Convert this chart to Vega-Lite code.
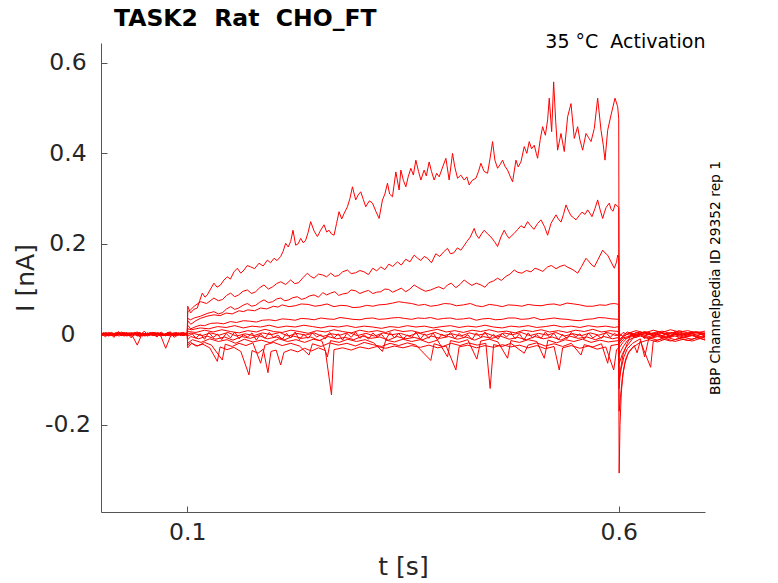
{
"$schema": "https://vega.github.io/schema/vega-lite/v6.json",
"width": 604,
"height": 469,
"autosize": "none",
"padding": {"left": 101, "top": 43, "right": 73, "bottom": 71},
"background": "white",
"config": {"view": {"stroke": null}, "font": "DejaVu Sans"},
"title": {"text": "TASK2\u00a0 Rat\u00a0 CHO_FT", "anchor": "start", "frame": "group", "fontSize": 23.5, "fontWeight": "bold", "color": "#000000", "dx": 13, "offset": -17, "baseline": "alphabetic"},
"data": {"values": [
{"sweep":1,"t":0,"I":0.002},{"sweep":1,"t":0.006,"I":-0.003},{"sweep":1,"t":0.012,"I":0.004},{"sweep":1,"t":0.018,"I":-0.001},{"sweep":1,"t":0.024,"I":0.003},{"sweep":1,"t":0.03,"I":-0.004},{"sweep":1,"t":0.036,"I":0.001},{"sweep":1,"t":0.042,"I":0.005},{"sweep":1,"t":0.048,"I":-0.002},{"sweep":1,"t":0.054,"I":0.003},{"sweep":1,"t":0.06,"I":-0.003},{"sweep":1,"t":0.066,"I":0.002},{"sweep":1,"t":0.072,"I":-0.001},{"sweep":1,"t":0.078,"I":0.004},{"sweep":1,"t":0.084,"I":-0.002},{"sweep":1,"t":0.09,"I":0.001},{"sweep":1,"t":0.096,"I":0.003},{"sweep":1,"t":0.1,"I":0},
{"sweep":1,"t":0.1005,"I":0.062},{"sweep":1,"t":0.1038,"I":0.047},{"sweep":1,"t":0.1075,"I":0.055},{"sweep":1,"t":0.1116,"I":0.058},{"sweep":1,"t":0.1145,"I":0.075},{"sweep":1,"t":0.1174,"I":0.091},{"sweep":1,"t":0.1205,"I":0.082},{"sweep":1,"t":0.1232,"I":0.087},{"sweep":1,"t":0.127,"I":0.1},{"sweep":1,"t":0.1309,"I":0.113},{"sweep":1,"t":0.1345,"I":0.104},{"sweep":1,"t":0.1386,"I":0.109},{"sweep":1,"t":0.1425,"I":0.12},{"sweep":1,"t":0.1464,"I":0.127},{"sweep":1,"t":0.15,"I":0.122},{"sweep":1,"t":0.1541,"I":0.138},{"sweep":1,"t":0.158,"I":0.146},{"sweep":1,"t":0.162,"I":0.135},{"sweep":1,"t":0.1657,"I":0.142},{"sweep":1,"t":0.1695,"I":0.152},{"sweep":1,"t":0.1734,"I":0.149},{"sweep":1,"t":0.178,"I":0.145},{"sweep":1,"t":0.1831,"I":0.157},{"sweep":1,"t":0.188,"I":0.151},{"sweep":1,"t":0.1928,"I":0.164},{"sweep":1,"t":0.1965,"I":0.158},{"sweep":1,"t":0.2005,"I":0.168},{"sweep":1,"t":0.204,"I":0.163},{"sweep":1,"t":0.2082,"I":0.172},{"sweep":1,"t":0.211,"I":0.183},{"sweep":1,"t":0.214,"I":0.201},{"sweep":1,"t":0.217,"I":0.193},{"sweep":1,"t":0.2198,"I":0.205},{"sweep":1,"t":0.2225,"I":0.23},{"sweep":1,"t":0.2256,"I":0.197},{"sweep":1,"t":0.2285,"I":0.2},{"sweep":1,"t":0.2314,"I":0.212},{"sweep":1,"t":0.2345,"I":0.202},{"sweep":1,"t":0.2372,"I":0.208},{"sweep":1,"t":0.24,"I":0.225},{"sweep":1,"t":0.243,"I":0.249},{"sweep":1,"t":0.247,"I":0.228},{"sweep":1,"t":0.2508,"I":0.216},{"sweep":1,"t":0.2545,"I":0.23},{"sweep":1,"t":0.2585,"I":0.242},{"sweep":1,"t":0.2615,"I":0.226},{"sweep":1,"t":0.2643,"I":0.23},{"sweep":1,"t":0.267,"I":0.222},{"sweep":1,"t":0.2701,"I":0.219},{"sweep":1,"t":0.273,"I":0.245},{"sweep":1,"t":0.2759,"I":0.271},{"sweep":1,"t":0.279,"I":0.255},{"sweep":1,"t":0.2817,"I":0.267},{"sweep":1,"t":0.2856,"I":0.282},{"sweep":1,"t":0.2885,"I":0.3},{"sweep":1,"t":0.2914,"I":0.326},{"sweep":1,"t":0.2952,"I":0.297},{"sweep":1,"t":0.298,"I":0.308},{"sweep":1,"t":0.301,"I":0.315},{"sweep":1,"t":0.304,"I":0.298},{"sweep":1,"t":0.3068,"I":0.282},{"sweep":1,"t":0.311,"I":0.295},{"sweep":1,"t":0.3146,"I":0.29},{"sweep":1,"t":0.3185,"I":0.272},{"sweep":1,"t":0.3223,"I":0.256},{"sweep":1,"t":0.3262,"I":0.297},{"sweep":1,"t":0.329,"I":0.31},{"sweep":1,"t":0.332,"I":0.334},{"sweep":1,"t":0.3345,"I":0.31},{"sweep":1,"t":0.3378,"I":0.304},{"sweep":1,"t":0.3417,"I":0.359},{"sweep":1,"t":0.3455,"I":0.319},{"sweep":1,"t":0.3475,"I":0.363},{"sweep":1,"t":0.3505,"I":0.34},{"sweep":1,"t":0.3533,"I":0.326},{"sweep":1,"t":0.356,"I":0.348},{"sweep":1,"t":0.3591,"I":0.367},{"sweep":1,"t":0.362,"I":0.352},{"sweep":1,"t":0.3649,"I":0.385},{"sweep":1,"t":0.368,"I":0.36},{"sweep":1,"t":0.3707,"I":0.341},{"sweep":1,"t":0.3745,"I":0.363},{"sweep":1,"t":0.377,"I":0.35},{"sweep":1,"t":0.3803,"I":0.381},{"sweep":1,"t":0.383,"I":0.36},{"sweep":1,"t":0.3861,"I":0.341},{"sweep":1,"t":0.389,"I":0.356},{"sweep":1,"t":0.3919,"I":0.348},{"sweep":1,"t":0.396,"I":0.37},{"sweep":1,"t":0.3997,"I":0.389},{"sweep":1,"t":0.4035,"I":0.341},{"sweep":1,"t":0.4074,"I":0.4},{"sweep":1,"t":0.41,"I":0.37},{"sweep":1,"t":0.4132,"I":0.345},{"sweep":1,"t":0.417,"I":0.352},{"sweep":1,"t":0.4209,"I":0.341},{"sweep":1,"t":0.424,"I":0.348},{"sweep":1,"t":0.4267,"I":0.33},{"sweep":1,"t":0.43,"I":0.34},{"sweep":1,"t":0.4345,"I":0.345},{"sweep":1,"t":0.4375,"I":0.36},{"sweep":1,"t":0.4403,"I":0.378},{"sweep":1,"t":0.444,"I":0.36},{"sweep":1,"t":0.448,"I":0.356},{"sweep":1,"t":0.451,"I":0.39},{"sweep":1,"t":0.4538,"I":0.426},{"sweep":1,"t":0.4565,"I":0.385},{"sweep":1,"t":0.4596,"I":0.367},{"sweep":1,"t":0.4625,"I":0.375},{"sweep":1,"t":0.4654,"I":0.385},{"sweep":1,"t":0.468,"I":0.372},{"sweep":1,"t":0.4712,"I":0.363},{"sweep":1,"t":0.474,"I":0.35},{"sweep":1,"t":0.477,"I":0.337},{"sweep":1,"t":0.4809,"I":0.385},{"sweep":1,"t":0.4835,"I":0.37},{"sweep":1,"t":0.4867,"I":0.381},{"sweep":1,"t":0.4905,"I":0.415},{"sweep":1,"t":0.4935,"I":0.4},{"sweep":1,"t":0.4963,"I":0.426},{"sweep":1,"t":0.499,"I":0.41},{"sweep":1,"t":0.5021,"I":0.418},{"sweep":1,"t":0.5045,"I":0.4},{"sweep":1,"t":0.506,"I":0.389},{"sweep":1,"t":0.509,"I":0.43},{"sweep":1,"t":0.5118,"I":0.459},{"sweep":1,"t":0.515,"I":0.44},{"sweep":1,"t":0.5176,"I":0.474},{"sweep":1,"t":0.5195,"I":0.522},{"sweep":1,"t":0.5223,"I":0.448},{"sweep":1,"t":0.5246,"I":0.558},{"sweep":1,"t":0.527,"I":0.47},{"sweep":1,"t":0.5292,"I":0.407},{"sweep":1,"t":0.5331,"I":0.444},{"sweep":1,"t":0.5369,"I":0.404},{"sweep":1,"t":0.5408,"I":0.481},{"sweep":1,"t":0.5447,"I":0.51},{"sweep":1,"t":0.5485,"I":0.433},{"sweep":1,"t":0.5524,"I":0.459},{"sweep":1,"t":0.555,"I":0.43},{"sweep":1,"t":0.5582,"I":0.407},{"sweep":1,"t":0.5621,"I":0.444},{"sweep":1,"t":0.565,"I":0.435},{"sweep":1,"t":0.5679,"I":0.426},{"sweep":1,"t":0.5717,"I":0.455},{"sweep":1,"t":0.5756,"I":0.522},{"sweep":1,"t":0.5795,"I":0.451},{"sweep":1,"t":0.582,"I":0.42},{"sweep":1,"t":0.5841,"I":0.385},{"sweep":1,"t":0.5872,"I":0.451},{"sweep":1,"t":0.5911,"I":0.485},{"sweep":1,"t":0.5957,"I":0.522},{"sweep":1,"t":0.5988,"I":0.503},{"sweep":1,"t":0.6,"I":0.477},
{"sweep":1,"t":0.6005,"I":0.003},{"sweep":1,"t":0.604,"I":-0.004},{"sweep":1,"t":0.61,"I":0.005},{"sweep":1,"t":0.62,"I":-0.002},{"sweep":1,"t":0.63,"I":0.006},{"sweep":1,"t":0.64,"I":0.001},{"sweep":1,"t":0.65,"I":0.007},{"sweep":1,"t":0.66,"I":0.002},{"sweep":1,"t":0.67,"I":0.008},{"sweep":1,"t":0.68,"I":0.003},{"sweep":1,"t":0.69,"I":0.006},{"sweep":1,"t":0.7,"I":0.002},

{"sweep":2,"t":0,"I":-0.002},{"sweep":2,"t":0.003,"I":0.003},{"sweep":2,"t":0.009,"I":-0.004},{"sweep":2,"t":0.015,"I":0.002},{"sweep":2,"t":0.021,"I":-0.001},{"sweep":2,"t":0.027,"I":0.004},{"sweep":2,"t":0.033,"I":-0.003},{"sweep":2,"t":0.039,"I":0.001},{"sweep":2,"t":0.045,"I":-0.005},{"sweep":2,"t":0.051,"I":0.002},{"sweep":2,"t":0.057,"I":0},{"sweep":2,"t":0.063,"I":-0.003},{"sweep":2,"t":0.069,"I":0.003},{"sweep":2,"t":0.075,"I":-0.002},{"sweep":2,"t":0.081,"I":0.002},{"sweep":2,"t":0.087,"I":-0.004},{"sweep":2,"t":0.093,"I":0.001},{"sweep":2,"t":0.1,"I":-0.001},
{"sweep":2,"t":0.1005,"I":0.05},{"sweep":2,"t":0.1038,"I":0.054},{"sweep":2,"t":0.108,"I":0.062},{"sweep":2,"t":0.1154,"I":0.072},{"sweep":2,"t":0.1224,"I":0.068},{"sweep":2,"t":0.1309,"I":0.08},{"sweep":2,"t":0.136,"I":0.074},{"sweep":2,"t":0.141,"I":0.077},{"sweep":2,"t":0.1455,"I":0.086},{"sweep":2,"t":0.1502,"I":0.091},{"sweep":2,"t":0.155,"I":0.083},{"sweep":2,"t":0.1595,"I":0.087},{"sweep":2,"t":0.1645,"I":0.095},{"sweep":2,"t":0.1696,"I":0.098},{"sweep":2,"t":0.1745,"I":0.09},{"sweep":2,"t":0.1792,"I":0.094},{"sweep":2,"t":0.184,"I":0.103},{"sweep":2,"t":0.1889,"I":0.109},{"sweep":2,"t":0.194,"I":0.1},{"sweep":2,"t":0.199,"I":0.105},{"sweep":2,"t":0.2035,"I":0.112},{"sweep":2,"t":0.2082,"I":0.116},{"sweep":2,"t":0.214,"I":0.11},{"sweep":2,"t":0.2198,"I":0.12},{"sweep":2,"t":0.2245,"I":0.112},{"sweep":2,"t":0.2291,"I":0.114},{"sweep":2,"t":0.234,"I":0.125},{"sweep":2,"t":0.2392,"I":0.135},{"sweep":2,"t":0.243,"I":0.128},{"sweep":2,"t":0.2469,"I":0.124},{"sweep":2,"t":0.252,"I":0.133},{"sweep":2,"t":0.257,"I":0.131},{"sweep":2,"t":0.2615,"I":0.127},{"sweep":2,"t":0.2662,"I":0.135},{"sweep":2,"t":0.271,"I":0.128},{"sweep":2,"t":0.2755,"I":0.13},{"sweep":2,"t":0.28,"I":0.138},{"sweep":2,"t":0.2856,"I":0.142},{"sweep":2,"t":0.29,"I":0.134},{"sweep":2,"t":0.2952,"I":0.136},{"sweep":2,"t":0.3,"I":0.141},{"sweep":2,"t":0.3049,"I":0.138},{"sweep":2,"t":0.31,"I":0.132},{"sweep":2,"t":0.315,"I":0.146},{"sweep":2,"t":0.3195,"I":0.14},{"sweep":2,"t":0.3242,"I":0.149},{"sweep":2,"t":0.329,"I":0.143},{"sweep":2,"t":0.3335,"I":0.155},{"sweep":2,"t":0.338,"I":0.15},{"sweep":2,"t":0.3436,"I":0.16},{"sweep":2,"t":0.348,"I":0.153},{"sweep":2,"t":0.3532,"I":0.166},{"sweep":2,"t":0.358,"I":0.16},{"sweep":2,"t":0.3629,"I":0.175},{"sweep":2,"t":0.367,"I":0.168},{"sweep":2,"t":0.3707,"I":0.163},{"sweep":2,"t":0.3745,"I":0.172},{"sweep":2,"t":0.3784,"I":0.168},{"sweep":2,"t":0.383,"I":0.158},{"sweep":2,"t":0.388,"I":0.178},{"sweep":2,"t":0.3925,"I":0.172},{"sweep":2,"t":0.397,"I":0.182},{"sweep":2,"t":0.4016,"I":0.19},{"sweep":2,"t":0.405,"I":0.178},{"sweep":2,"t":0.4089,"I":0.18},{"sweep":2,"t":0.413,"I":0.191},{"sweep":2,"t":0.4171,"I":0.186},{"sweep":2,"t":0.4205,"I":0.195},{"sweep":2,"t":0.424,"I":0.205},{"sweep":2,"t":0.428,"I":0.215},{"sweep":2,"t":0.4325,"I":0.234},{"sweep":2,"t":0.435,"I":0.22},{"sweep":2,"t":0.4379,"I":0.212},{"sweep":2,"t":0.441,"I":0.222},{"sweep":2,"t":0.4441,"I":0.23},{"sweep":2,"t":0.448,"I":0.222},{"sweep":2,"t":0.4519,"I":0.215},{"sweep":2,"t":0.456,"I":0.205},{"sweep":2,"t":0.4596,"I":0.194},{"sweep":2,"t":0.4635,"I":0.215},{"sweep":2,"t":0.4673,"I":0.23},{"sweep":2,"t":0.47,"I":0.22},{"sweep":2,"t":0.4728,"I":0.212},{"sweep":2,"t":0.476,"I":0.218},{"sweep":2,"t":0.4789,"I":0.223},{"sweep":2,"t":0.483,"I":0.232},{"sweep":2,"t":0.4867,"I":0.24},{"sweep":2,"t":0.4905,"I":0.235},{"sweep":2,"t":0.4944,"I":0.249},{"sweep":2,"t":0.498,"I":0.24},{"sweep":2,"t":0.5017,"I":0.232},{"sweep":2,"t":0.506,"I":0.245},{"sweep":2,"t":0.5099,"I":0.253},{"sweep":2,"t":0.514,"I":0.238},{"sweep":2,"t":0.5176,"I":0.219},{"sweep":2,"t":0.5215,"I":0.245},{"sweep":2,"t":0.5245,"I":0.255},{"sweep":2,"t":0.5273,"I":0.264},{"sweep":2,"t":0.53,"I":0.255},{"sweep":2,"t":0.5331,"I":0.248},{"sweep":2,"t":0.536,"I":0.265},{"sweep":2,"t":0.5389,"I":0.286},{"sweep":2,"t":0.542,"I":0.272},{"sweep":2,"t":0.5447,"I":0.262},{"sweep":2,"t":0.5475,"I":0.258},{"sweep":2,"t":0.5505,"I":0.253},{"sweep":2,"t":0.554,"I":0.262},{"sweep":2,"t":0.5574,"I":0.27},{"sweep":2,"t":0.561,"I":0.265},{"sweep":2,"t":0.564,"I":0.275},{"sweep":2,"t":0.5665,"I":0.268},{"sweep":2,"t":0.569,"I":0.26},{"sweep":2,"t":0.5725,"I":0.278},{"sweep":2,"t":0.5756,"I":0.297},{"sweep":2,"t":0.5785,"I":0.275},{"sweep":2,"t":0.5814,"I":0.256},{"sweep":2,"t":0.5835,"I":0.27},{"sweep":2,"t":0.5853,"I":0.28},{"sweep":2,"t":0.5891,"I":0.29},{"sweep":2,"t":0.5912,"I":0.276},{"sweep":2,"t":0.5934,"I":0.272},{"sweep":2,"t":0.596,"I":0.288},{"sweep":2,"t":0.5988,"I":0.282},{"sweep":2,"t":0.6,"I":0.28},
{"sweep":2,"t":0.6005,"I":-0.006},{"sweep":2,"t":0.605,"I":0.004},{"sweep":2,"t":0.612,"I":-0.002},{"sweep":2,"t":0.625,"I":0.005},{"sweep":2,"t":0.635,"I":-0.001},{"sweep":2,"t":0.645,"I":0.006},{"sweep":2,"t":0.655,"I":0},{"sweep":2,"t":0.665,"I":0.004},{"sweep":2,"t":0.675,"I":-0.002},{"sweep":2,"t":0.685,"I":0.005},{"sweep":2,"t":0.695,"I":0.001},{"sweep":2,"t":0.7,"I":0.003},

{"sweep":3,"t":0,"I":0.001},{"sweep":3,"t":0.006,"I":-0.001},{"sweep":3,"t":0.012,"I":0.003},{"sweep":3,"t":0.018,"I":-0.003},{"sweep":3,"t":0.024,"I":0.005},{"sweep":3,"t":0.03,"I":-0.002},{"sweep":3,"t":0.036,"I":0},{"sweep":3,"t":0.042,"I":0.002},{"sweep":3,"t":0.048,"I":-0.004},{"sweep":3,"t":0.054,"I":0.001},{"sweep":3,"t":0.06,"I":0.004},{"sweep":3,"t":0.066,"I":-0.002},{"sweep":3,"t":0.072,"I":-0.001},{"sweep":3,"t":0.078,"I":0.003},{"sweep":3,"t":0.084,"I":-0.003},{"sweep":3,"t":0.09,"I":0.002},{"sweep":3,"t":0.096,"I":-0.002},{"sweep":3,"t":0.1,"I":0.001},
{"sweep":3,"t":0.1005,"I":0.035},{"sweep":3,"t":0.1038,"I":0.032},{"sweep":3,"t":0.108,"I":0.036},{"sweep":3,"t":0.1154,"I":0.04},{"sweep":3,"t":0.123,"I":0.046},{"sweep":3,"t":0.1309,"I":0.05},{"sweep":3,"t":0.136,"I":0.045},{"sweep":3,"t":0.141,"I":0.048},{"sweep":3,"t":0.1455,"I":0.056},{"sweep":3,"t":0.1502,"I":0.061},{"sweep":3,"t":0.155,"I":0.055},{"sweep":3,"t":0.1595,"I":0.058},{"sweep":3,"t":0.1645,"I":0.064},{"sweep":3,"t":0.1696,"I":0.068},{"sweep":3,"t":0.1745,"I":0.062},{"sweep":3,"t":0.1792,"I":0.064},{"sweep":3,"t":0.184,"I":0.071},{"sweep":3,"t":0.1889,"I":0.076},{"sweep":3,"t":0.194,"I":0.07},{"sweep":3,"t":0.199,"I":0.072},{"sweep":3,"t":0.2035,"I":0.078},{"sweep":3,"t":0.2082,"I":0.08},{"sweep":3,"t":0.213,"I":0.074},{"sweep":3,"t":0.2175,"I":0.076},{"sweep":3,"t":0.2225,"I":0.081},{"sweep":3,"t":0.2276,"I":0.083},{"sweep":3,"t":0.2325,"I":0.077},{"sweep":3,"t":0.2372,"I":0.08},{"sweep":3,"t":0.242,"I":0.085},{"sweep":3,"t":0.2469,"I":0.087},{"sweep":3,"t":0.252,"I":0.082},{"sweep":3,"t":0.257,"I":0.092},{"sweep":3,"t":0.2615,"I":0.087},{"sweep":3,"t":0.2662,"I":0.091},{"sweep":3,"t":0.271,"I":0.094},{"sweep":3,"t":0.2755,"I":0.086},{"sweep":3,"t":0.28,"I":0.089},{"sweep":3,"t":0.2856,"I":0.091},{"sweep":3,"t":0.29,"I":0.098},{"sweep":3,"t":0.2952,"I":0.096},{"sweep":3,"t":0.3,"I":0.09},{"sweep":3,"t":0.3049,"I":0.094},{"sweep":3,"t":0.31,"I":0.097},{"sweep":3,"t":0.315,"I":0.09},{"sweep":3,"t":0.3195,"I":0.093},{"sweep":3,"t":0.3242,"I":0.094},{"sweep":3,"t":0.329,"I":0.1},{"sweep":3,"t":0.3335,"I":0.099},{"sweep":3,"t":0.338,"I":0.093},{"sweep":3,"t":0.3436,"I":0.098},{"sweep":3,"t":0.348,"I":0.102},{"sweep":3,"t":0.3532,"I":0.094},{"sweep":3,"t":0.358,"I":0.1},{"sweep":3,"t":0.3629,"I":0.109},{"sweep":3,"t":0.367,"I":0.104},{"sweep":3,"t":0.3707,"I":0.1},{"sweep":3,"t":0.376,"I":0.095},{"sweep":3,"t":0.3822,"I":0.098},{"sweep":3,"t":0.387,"I":0.102},{"sweep":3,"t":0.3915,"I":0.105},{"sweep":3,"t":0.397,"I":0.1},{"sweep":3,"t":0.4016,"I":0.109},{"sweep":3,"t":0.406,"I":0.113},{"sweep":3,"t":0.4112,"I":0.103},{"sweep":3,"t":0.416,"I":0.11},{"sweep":3,"t":0.4209,"I":0.12},{"sweep":3,"t":0.425,"I":0.114},{"sweep":3,"t":0.4298,"I":0.108},{"sweep":3,"t":0.435,"I":0.113},{"sweep":3,"t":0.4403,"I":0.109},{"sweep":3,"t":0.445,"I":0.104},{"sweep":3,"t":0.4495,"I":0.114},{"sweep":3,"t":0.455,"I":0.118},{"sweep":3,"t":0.4596,"I":0.124},{"sweep":3,"t":0.464,"I":0.119},{"sweep":3,"t":0.4693,"I":0.128},{"sweep":3,"t":0.474,"I":0.133},{"sweep":3,"t":0.4789,"I":0.142},{"sweep":3,"t":0.483,"I":0.137},{"sweep":3,"t":0.4878,"I":0.135},{"sweep":3,"t":0.493,"I":0.141},{"sweep":3,"t":0.4983,"I":0.138},{"sweep":3,"t":0.503,"I":0.146},{"sweep":3,"t":0.5075,"I":0.143},{"sweep":3,"t":0.512,"I":0.139},{"sweep":3,"t":0.5176,"I":0.149},{"sweep":3,"t":0.522,"I":0.152},{"sweep":3,"t":0.5273,"I":0.145},{"sweep":3,"t":0.532,"I":0.15},{"sweep":3,"t":0.5369,"I":0.153},{"sweep":3,"t":0.541,"I":0.148},{"sweep":3,"t":0.5447,"I":0.145},{"sweep":3,"t":0.549,"I":0.14},{"sweep":3,"t":0.5524,"I":0.135},{"sweep":3,"t":0.557,"I":0.15},{"sweep":3,"t":0.5621,"I":0.168},{"sweep":3,"t":0.565,"I":0.162},{"sweep":3,"t":0.5679,"I":0.155},{"sweep":3,"t":0.5717,"I":0.149},{"sweep":3,"t":0.576,"I":0.165},{"sweep":3,"t":0.5814,"I":0.186},{"sweep":3,"t":0.584,"I":0.18},{"sweep":3,"t":0.5872,"I":0.175},{"sweep":3,"t":0.5911,"I":0.16},{"sweep":3,"t":0.5949,"I":0.146},{"sweep":3,"t":0.5975,"I":0.16},{"sweep":3,"t":0.5988,"I":0.175},{"sweep":3,"t":0.6,"I":0.17},
{"sweep":3,"t":0.6005,"I":-0.012},{"sweep":3,"t":0.605,"I":-0.004},{"sweep":3,"t":0.612,"I":0.002},{"sweep":3,"t":0.62,"I":-0.004},{"sweep":3,"t":0.63,"I":0.003},{"sweep":3,"t":0.64,"I":-0.003},{"sweep":3,"t":0.65,"I":0.002},{"sweep":3,"t":0.66,"I":-0.005},{"sweep":3,"t":0.67,"I":0.003},{"sweep":3,"t":0.68,"I":-0.002},{"sweep":3,"t":0.69,"I":0.004},{"sweep":3,"t":0.7,"I":-0.001},

{"sweep":4,"t":0,"I":-0.003},{"sweep":4,"t":0.003,"I":0.002},{"sweep":4,"t":0.009,"I":0},{"sweep":4,"t":0.015,"I":-0.002},{"sweep":4,"t":0.021,"I":0.004},{"sweep":4,"t":0.027,"I":-0.001},{"sweep":4,"t":0.033,"I":-0.003},{"sweep":4,"t":0.039,"I":0.003},{"sweep":4,"t":0.045,"I":0.001},{"sweep":4,"t":0.051,"I":-0.004},{"sweep":4,"t":0.057,"I":0.002},{"sweep":4,"t":0.063,"I":-0.001},{"sweep":4,"t":0.069,"I":0.003},{"sweep":4,"t":0.075,"I":-0.003},{"sweep":4,"t":0.081,"I":0},{"sweep":4,"t":0.087,"I":0.004},{"sweep":4,"t":0.093,"I":-0.002},{"sweep":4,"t":0.1,"I":0.002},
{"sweep":4,"t":0.1005,"I":0.03},{"sweep":4,"t":0.104,"I":0.022},{"sweep":4,"t":0.11,"I":0.03},{"sweep":4,"t":0.115,"I":0.035},{"sweep":4,"t":0.123,"I":0.04},{"sweep":4,"t":0.131,"I":0.043},{"sweep":4,"t":0.138,"I":0.041},{"sweep":4,"t":0.145,"I":0.047},{"sweep":4,"t":0.152,"I":0.045},{"sweep":4,"t":0.16,"I":0.052},{"sweep":4,"t":0.165,"I":0.05},{"sweep":4,"t":0.17,"I":0.054},{"sweep":4,"t":0.178,"I":0.052},{"sweep":4,"t":0.185,"I":0.058},{"sweep":4,"t":0.192,"I":0.056},{"sweep":4,"t":0.2,"I":0.062},{"sweep":4,"t":0.205,"I":0.06},{"sweep":4,"t":0.21,"I":0.065},{"sweep":4,"t":0.218,"I":0.061},{"sweep":4,"t":0.225,"I":0.063},{"sweep":4,"t":0.232,"I":0.067},{"sweep":4,"t":0.24,"I":0.066},{"sweep":4,"t":0.248,"I":0.062},{"sweep":4,"t":0.255,"I":0.064},{"sweep":4,"t":0.262,"I":0.067},{"sweep":4,"t":0.27,"I":0.061},{"sweep":4,"t":0.278,"I":0.064},{"sweep":4,"t":0.285,"I":0.063},{"sweep":4,"t":0.292,"I":0.059},{"sweep":4,"t":0.3,"I":0.06},{"sweep":4,"t":0.308,"I":0.064},{"sweep":4,"t":0.315,"I":0.062},{"sweep":4,"t":0.322,"I":0.065},{"sweep":4,"t":0.33,"I":0.066},{"sweep":4,"t":0.338,"I":0.069},{"sweep":4,"t":0.345,"I":0.072},{"sweep":4,"t":0.352,"I":0.07},{"sweep":4,"t":0.36,"I":0.068},{"sweep":4,"t":0.368,"I":0.064},{"sweep":4,"t":0.375,"I":0.066},{"sweep":4,"t":0.382,"I":0.062},{"sweep":4,"t":0.39,"I":0.064},{"sweep":4,"t":0.398,"I":0.068},{"sweep":4,"t":0.405,"I":0.067},{"sweep":4,"t":0.412,"I":0.063},{"sweep":4,"t":0.42,"I":0.065},{"sweep":4,"t":0.428,"I":0.068},{"sweep":4,"t":0.435,"I":0.063},{"sweep":4,"t":0.442,"I":0.061},{"sweep":4,"t":0.45,"I":0.066},{"sweep":4,"t":0.458,"I":0.064},{"sweep":4,"t":0.465,"I":0.061},{"sweep":4,"t":0.472,"I":0.065},{"sweep":4,"t":0.48,"I":0.064},{"sweep":4,"t":0.488,"I":0.062},{"sweep":4,"t":0.495,"I":0.066},{"sweep":4,"t":0.502,"I":0.064},{"sweep":4,"t":0.51,"I":0.063},{"sweep":4,"t":0.518,"I":0.066},{"sweep":4,"t":0.525,"I":0.067},{"sweep":4,"t":0.532,"I":0.064},{"sweep":4,"t":0.54,"I":0.069},{"sweep":4,"t":0.548,"I":0.067},{"sweep":4,"t":0.555,"I":0.065},{"sweep":4,"t":0.562,"I":0.062},{"sweep":4,"t":0.57,"I":0.062},{"sweep":4,"t":0.578,"I":0.065},{"sweep":4,"t":0.585,"I":0.064},{"sweep":4,"t":0.59,"I":0.067},{"sweep":4,"t":0.595,"I":0.068},{"sweep":4,"t":0.6,"I":0.066},
{"sweep":4,"t":0.6005,"I":-0.015},{"sweep":4,"t":0.605,"I":-0.008},{"sweep":4,"t":0.613,"I":-0.004},{"sweep":4,"t":0.625,"I":0.001},{"sweep":4,"t":0.635,"I":-0.005},{"sweep":4,"t":0.645,"I":0},{"sweep":4,"t":0.655,"I":-0.006},{"sweep":4,"t":0.665,"I":0.001},{"sweep":4,"t":0.675,"I":-0.004},{"sweep":4,"t":0.685,"I":0.002},{"sweep":4,"t":0.695,"I":-0.005},{"sweep":4,"t":0.7,"I":-0.002},

{"sweep":5,"t":0,"I":0.004},{"sweep":5,"t":0.006,"I":-0.002},{"sweep":5,"t":0.012,"I":0.001},{"sweep":5,"t":0.018,"I":-0.003},{"sweep":5,"t":0.024,"I":0.002},{"sweep":5,"t":0.03,"I":0},{"sweep":5,"t":0.036,"I":-0.002},{"sweep":5,"t":0.042,"I":-0.024},{"sweep":5,"t":0.048,"I":0.003},{"sweep":5,"t":0.054,"I":-0.002},{"sweep":5,"t":0.06,"I":-0.001},{"sweep":5,"t":0.066,"I":0.002},{"sweep":5,"t":0.072,"I":-0.003},{"sweep":5,"t":0.078,"I":0.004},{"sweep":5,"t":0.084,"I":-0.001},{"sweep":5,"t":0.09,"I":0},{"sweep":5,"t":0.096,"I":0.002},{"sweep":5,"t":0.1,"I":-0.002},
{"sweep":5,"t":0.1005,"I":0.02},{"sweep":5,"t":0.104,"I":0.012},{"sweep":5,"t":0.11,"I":0.017},{"sweep":5,"t":0.115,"I":0.02},{"sweep":5,"t":0.12,"I":0.019},{"sweep":5,"t":0.127,"I":0.024},{"sweep":5,"t":0.135,"I":0.025},{"sweep":5,"t":0.142,"I":0.023},{"sweep":5,"t":0.15,"I":0.028},{"sweep":5,"t":0.157,"I":0.026},{"sweep":5,"t":0.165,"I":0.03},{"sweep":5,"t":0.172,"I":0.029},{"sweep":5,"t":0.18,"I":0.027},{"sweep":5,"t":0.187,"I":0.031},{"sweep":5,"t":0.195,"I":0.032},{"sweep":5,"t":0.202,"I":0.03},{"sweep":5,"t":0.21,"I":0.034},{"sweep":5,"t":0.217,"I":0.033},{"sweep":5,"t":0.225,"I":0.031},{"sweep":5,"t":0.232,"I":0.035},{"sweep":5,"t":0.24,"I":0.034},{"sweep":5,"t":0.247,"I":0.032},{"sweep":5,"t":0.255,"I":0.036},{"sweep":5,"t":0.262,"I":0.034},{"sweep":5,"t":0.27,"I":0.033},{"sweep":5,"t":0.277,"I":0.037},{"sweep":5,"t":0.285,"I":0.035},{"sweep":5,"t":0.292,"I":0.033},{"sweep":5,"t":0.3,"I":0.032},{"sweep":5,"t":0.307,"I":0.035},{"sweep":5,"t":0.315,"I":0.036},{"sweep":5,"t":0.322,"I":0.033},{"sweep":5,"t":0.33,"I":0.034},{"sweep":5,"t":0.337,"I":0.036},{"sweep":5,"t":0.345,"I":0.037},{"sweep":5,"t":0.352,"I":0.035},{"sweep":5,"t":0.36,"I":0.033},{"sweep":5,"t":0.367,"I":0.036},{"sweep":5,"t":0.375,"I":0.035},{"sweep":5,"t":0.382,"I":0.037},{"sweep":5,"t":0.39,"I":0.033},{"sweep":5,"t":0.397,"I":0.035},{"sweep":5,"t":0.405,"I":0.036},{"sweep":5,"t":0.412,"I":0.033},{"sweep":5,"t":0.42,"I":0.034},{"sweep":5,"t":0.427,"I":0.036},{"sweep":5,"t":0.435,"I":0.031},{"sweep":5,"t":0.442,"I":0.034},{"sweep":5,"t":0.45,"I":0.035},{"sweep":5,"t":0.457,"I":0.032},{"sweep":5,"t":0.465,"I":0.033},{"sweep":5,"t":0.472,"I":0.036},{"sweep":5,"t":0.48,"I":0.036},{"sweep":5,"t":0.487,"I":0.033},{"sweep":5,"t":0.495,"I":0.034},{"sweep":5,"t":0.502,"I":0.037},{"sweep":5,"t":0.51,"I":0.032},{"sweep":5,"t":0.517,"I":0.034},{"sweep":5,"t":0.525,"I":0.036},{"sweep":5,"t":0.532,"I":0.034},{"sweep":5,"t":0.54,"I":0.033},{"sweep":5,"t":0.547,"I":0.031},{"sweep":5,"t":0.555,"I":0.03},{"sweep":5,"t":0.562,"I":0.033},{"sweep":5,"t":0.57,"I":0.034},{"sweep":5,"t":0.577,"I":0.037},{"sweep":5,"t":0.585,"I":0.036},{"sweep":5,"t":0.592,"I":0.034},{"sweep":5,"t":0.6,"I":0.033},
{"sweep":5,"t":0.6005,"I":-0.018},{"sweep":5,"t":0.605,"I":-0.006},{"sweep":5,"t":0.612,"I":0.003},{"sweep":5,"t":0.62,"I":0.008},{"sweep":5,"t":0.63,"I":0.003},{"sweep":5,"t":0.64,"I":0.009},{"sweep":5,"t":0.65,"I":0.004},{"sweep":5,"t":0.66,"I":0.01},{"sweep":5,"t":0.67,"I":0.005},{"sweep":5,"t":0.68,"I":0.008},{"sweep":5,"t":0.69,"I":0.003},{"sweep":5,"t":0.7,"I":0.007},

{"sweep":6,"t":0,"I":-0.001},{"sweep":6,"t":0.003,"I":0.003},{"sweep":6,"t":0.009,"I":-0.002},{"sweep":6,"t":0.015,"I":0.001},{"sweep":6,"t":0.021,"I":-0.004},{"sweep":6,"t":0.027,"I":0.002},{"sweep":6,"t":0.033,"I":0.003},{"sweep":6,"t":0.039,"I":-0.001},{"sweep":6,"t":0.045,"I":0},{"sweep":6,"t":0.051,"I":-0.003},{"sweep":6,"t":0.057,"I":0.002},{"sweep":6,"t":0.063,"I":0.004},{"sweep":6,"t":0.069,"I":-0.002},{"sweep":6,"t":0.075,"I":-0.031},{"sweep":6,"t":0.081,"I":-0.002},{"sweep":6,"t":0.087,"I":0.003},{"sweep":6,"t":0.093,"I":-0.001},{"sweep":6,"t":0.1,"I":0},
{"sweep":6,"t":0.1005,"I":0.012},{"sweep":6,"t":0.105,"I":0.01},{"sweep":6,"t":0.115,"I":0.014},{"sweep":6,"t":0.125,"I":0.012},{"sweep":6,"t":0.135,"I":0.017},{"sweep":6,"t":0.145,"I":0.015},{"sweep":6,"t":0.155,"I":0.019},{"sweep":6,"t":0.165,"I":0.014},{"sweep":6,"t":0.175,"I":0.018},{"sweep":6,"t":0.185,"I":0.016},{"sweep":6,"t":0.195,"I":0.02},{"sweep":6,"t":0.205,"I":0.015},{"sweep":6,"t":0.215,"I":0.018},{"sweep":6,"t":0.225,"I":0.016},{"sweep":6,"t":0.235,"I":0.02},{"sweep":6,"t":0.245,"I":0.017},{"sweep":6,"t":0.255,"I":0.014},{"sweep":6,"t":0.265,"I":0.018},{"sweep":6,"t":0.275,"I":0.016},{"sweep":6,"t":0.285,"I":0.019},{"sweep":6,"t":0.295,"I":0.015},{"sweep":6,"t":0.305,"I":0.018},{"sweep":6,"t":0.315,"I":0.016},{"sweep":6,"t":0.325,"I":0.013},{"sweep":6,"t":0.335,"I":0.017},{"sweep":6,"t":0.345,"I":0.015},{"sweep":6,"t":0.355,"I":0.019},{"sweep":6,"t":0.365,"I":0.016},{"sweep":6,"t":0.375,"I":0.018},{"sweep":6,"t":0.385,"I":0.014},{"sweep":6,"t":0.395,"I":0.017},{"sweep":6,"t":0.405,"I":0.019},{"sweep":6,"t":0.415,"I":0.015},{"sweep":6,"t":0.425,"I":0.018},{"sweep":6,"t":0.435,"I":0.016},{"sweep":6,"t":0.445,"I":0.02},{"sweep":6,"t":0.455,"I":0.016},{"sweep":6,"t":0.465,"I":0.014},{"sweep":6,"t":0.475,"I":0.018},{"sweep":6,"t":0.485,"I":0.016},{"sweep":6,"t":0.495,"I":0.019},{"sweep":6,"t":0.505,"I":0.015},{"sweep":6,"t":0.515,"I":0.017},{"sweep":6,"t":0.525,"I":0.02},{"sweep":6,"t":0.535,"I":0.016},{"sweep":6,"t":0.545,"I":0.018},{"sweep":6,"t":0.555,"I":0.015},{"sweep":6,"t":0.565,"I":0.019},{"sweep":6,"t":0.575,"I":0.016},{"sweep":6,"t":0.585,"I":0.018},{"sweep":6,"t":0.595,"I":0.015},{"sweep":6,"t":0.6,"I":0.017},
{"sweep":6,"t":0.6005,"I":-0.022},{"sweep":6,"t":0.606,"I":-0.01},{"sweep":6,"t":0.614,"I":-0.006},{"sweep":6,"t":0.625,"I":-0.002},{"sweep":6,"t":0.635,"I":-0.008},{"sweep":6,"t":0.645,"I":-0.003},{"sweep":6,"t":0.655,"I":-0.007},{"sweep":6,"t":0.665,"I":-0.001},{"sweep":6,"t":0.675,"I":-0.006},{"sweep":6,"t":0.685,"I":-0.002},{"sweep":6,"t":0.695,"I":-0.007},{"sweep":6,"t":0.7,"I":-0.004},

{"sweep":7,"t":0,"I":0},{"sweep":7,"t":0.006,"I":0.004},{"sweep":7,"t":0.012,"I":-0.002},{"sweep":7,"t":0.018,"I":0.002},{"sweep":7,"t":0.024,"I":-0.003},{"sweep":7,"t":0.03,"I":0.001},{"sweep":7,"t":0.036,"I":0.003},{"sweep":7,"t":0.042,"I":-0.004},{"sweep":7,"t":0.048,"I":0.002},{"sweep":7,"t":0.054,"I":-0.001},{"sweep":7,"t":0.06,"I":0.003},{"sweep":7,"t":0.066,"I":-0.002},{"sweep":7,"t":0.072,"I":0},{"sweep":7,"t":0.078,"I":-0.003},{"sweep":7,"t":0.084,"I":0.003},{"sweep":7,"t":0.09,"I":-0.001},{"sweep":7,"t":0.096,"I":0.002},{"sweep":7,"t":0.1,"I":-0.002},
{"sweep":7,"t":0.1005,"I":0.006},{"sweep":7,"t":0.11,"I":0.004},{"sweep":7,"t":0.12,"I":0.009},{"sweep":7,"t":0.13,"I":0.005},{"sweep":7,"t":0.14,"I":0.01},{"sweep":7,"t":0.15,"I":0.006},{"sweep":7,"t":0.16,"I":0.003},{"sweep":7,"t":0.17,"I":0.008},{"sweep":7,"t":0.18,"I":0.005},{"sweep":7,"t":0.19,"I":0.011},{"sweep":7,"t":0.2,"I":0.006},{"sweep":7,"t":0.21,"I":0.004},{"sweep":7,"t":0.22,"I":0.009},{"sweep":7,"t":0.23,"I":0.006},{"sweep":7,"t":0.24,"I":0.002},{"sweep":7,"t":0.25,"I":0.008},{"sweep":7,"t":0.26,"I":0.005},{"sweep":7,"t":0.27,"I":0.01},{"sweep":7,"t":0.28,"I":0.006},{"sweep":7,"t":0.29,"I":0.003},{"sweep":7,"t":0.3,"I":0.009},{"sweep":7,"t":0.31,"I":0.005},{"sweep":7,"t":0.32,"I":0.008},{"sweep":7,"t":0.33,"I":0.004},{"sweep":7,"t":0.34,"I":0.01},{"sweep":7,"t":0.35,"I":0.006},{"sweep":7,"t":0.36,"I":0.008},{"sweep":7,"t":0.37,"I":0.003},{"sweep":7,"t":0.38,"I":0.007},{"sweep":7,"t":0.39,"I":0.011},{"sweep":7,"t":0.4,"I":0.005},{"sweep":7,"t":0.41,"I":0.008},{"sweep":7,"t":0.42,"I":0.004},{"sweep":7,"t":0.43,"I":0.009},{"sweep":7,"t":0.44,"I":0.006},{"sweep":7,"t":0.45,"I":0.01},{"sweep":7,"t":0.46,"I":0.005},{"sweep":7,"t":0.47,"I":0.007},{"sweep":7,"t":0.48,"I":0.003},{"sweep":7,"t":0.49,"I":0.009},{"sweep":7,"t":0.5,"I":0.006},{"sweep":7,"t":0.51,"I":0.01},{"sweep":7,"t":0.52,"I":0.005},{"sweep":7,"t":0.53,"I":0.008},{"sweep":7,"t":0.54,"I":0.004},{"sweep":7,"t":0.55,"I":0.009},{"sweep":7,"t":0.56,"I":0.006},{"sweep":7,"t":0.57,"I":0.011},{"sweep":7,"t":0.58,"I":0.005},{"sweep":7,"t":0.59,"I":0.008},{"sweep":7,"t":0.6,"I":0.006},
{"sweep":7,"t":0.6005,"I":-0.03},{"sweep":7,"t":0.605,"I":-0.018},{"sweep":7,"t":0.61,"I":-0.008},{"sweep":7,"t":0.62,"I":0.004},{"sweep":7,"t":0.63,"I":-0.002},{"sweep":7,"t":0.64,"I":0.003},{"sweep":7,"t":0.65,"I":-0.003},{"sweep":7,"t":0.66,"I":0.004},{"sweep":7,"t":0.67,"I":-0.001},{"sweep":7,"t":0.68,"I":0.003},{"sweep":7,"t":0.69,"I":-0.002},{"sweep":7,"t":0.7,"I":0.001},

{"sweep":8,"t":0,"I":0.003},{"sweep":8,"t":0.003,"I":-0.001},{"sweep":8,"t":0.009,"I":0.002},{"sweep":8,"t":0.015,"I":-0.004},{"sweep":8,"t":0.021,"I":0.001},{"sweep":8,"t":0.027,"I":0.003},{"sweep":8,"t":0.033,"I":-0.002},{"sweep":8,"t":0.039,"I":0},{"sweep":8,"t":0.045,"I":0.004},{"sweep":8,"t":0.051,"I":-0.003},{"sweep":8,"t":0.057,"I":0.001},{"sweep":8,"t":0.063,"I":-0.002},{"sweep":8,"t":0.069,"I":0.002},{"sweep":8,"t":0.075,"I":-0.001},{"sweep":8,"t":0.081,"I":-0.004},{"sweep":8,"t":0.087,"I":0.002},{"sweep":8,"t":0.093,"I":0},{"sweep":8,"t":0.1,"I":0.003},
{"sweep":8,"t":0.1005,"I":-0.004},{"sweep":8,"t":0.107,"I":0.002},{"sweep":8,"t":0.117,"I":-0.003},{"sweep":8,"t":0.127,"I":0.003},{"sweep":8,"t":0.137,"I":-0.002},{"sweep":8,"t":0.147,"I":0.004},{"sweep":8,"t":0.157,"I":-0.004},{"sweep":8,"t":0.167,"I":0.001},{"sweep":8,"t":0.177,"I":-0.003},{"sweep":8,"t":0.187,"I":0.003},{"sweep":8,"t":0.197,"I":-0.001},{"sweep":8,"t":0.207,"I":0.004},{"sweep":8,"t":0.217,"I":-0.004},{"sweep":8,"t":0.227,"I":0.002},{"sweep":8,"t":0.237,"I":-0.002},{"sweep":8,"t":0.247,"I":0.003},{"sweep":8,"t":0.257,"I":-0.005},{"sweep":8,"t":0.267,"I":0.001},{"sweep":8,"t":0.277,"I":-0.002},{"sweep":8,"t":0.287,"I":0.004},{"sweep":8,"t":0.297,"I":-0.003},{"sweep":8,"t":0.307,"I":0.002},{"sweep":8,"t":0.317,"I":-0.004},{"sweep":8,"t":0.327,"I":0.003},{"sweep":8,"t":0.337,"I":-0.001},{"sweep":8,"t":0.347,"I":0.002},{"sweep":8,"t":0.357,"I":-0.004},{"sweep":8,"t":0.367,"I":0.003},{"sweep":8,"t":0.377,"I":-0.002},{"sweep":8,"t":0.387,"I":0.004},{"sweep":8,"t":0.397,"I":-0.003},{"sweep":8,"t":0.407,"I":0.001},{"sweep":8,"t":0.417,"I":-0.004},{"sweep":8,"t":0.427,"I":0.003},{"sweep":8,"t":0.437,"I":-0.002},{"sweep":8,"t":0.447,"I":0.002},{"sweep":8,"t":0.457,"I":-0.005},{"sweep":8,"t":0.467,"I":0.003},{"sweep":8,"t":0.477,"I":-0.001},{"sweep":8,"t":0.487,"I":0.004},{"sweep":8,"t":0.497,"I":-0.003},{"sweep":8,"t":0.507,"I":0.002},{"sweep":8,"t":0.517,"I":-0.002},{"sweep":8,"t":0.527,"I":0.004},{"sweep":8,"t":0.537,"I":-0.004},{"sweep":8,"t":0.547,"I":0.001},{"sweep":8,"t":0.557,"I":-0.003},{"sweep":8,"t":0.567,"I":0.003},{"sweep":8,"t":0.577,"I":-0.002},{"sweep":8,"t":0.587,"I":0.004},{"sweep":8,"t":0.597,"I":-0.003},{"sweep":8,"t":0.6,"I":0},
{"sweep":8,"t":0.6005,"I":-0.045},{"sweep":8,"t":0.605,"I":-0.028},{"sweep":8,"t":0.61,"I":-0.014},{"sweep":8,"t":0.617,"I":-0.008},{"sweep":8,"t":0.625,"I":-0.004},{"sweep":8,"t":0.635,"I":-0.01},{"sweep":8,"t":0.645,"I":-0.005},{"sweep":8,"t":0.655,"I":-0.009},{"sweep":8,"t":0.665,"I":-0.004},{"sweep":8,"t":0.675,"I":-0.008},{"sweep":8,"t":0.685,"I":-0.003},{"sweep":8,"t":0.695,"I":-0.009},{"sweep":8,"t":0.7,"I":-0.006},

{"sweep":9,"t":0,"I":-0.004},{"sweep":9,"t":0.006,"I":0.001},{"sweep":9,"t":0.012,"I":-0.002},{"sweep":9,"t":0.018,"I":0.003},{"sweep":9,"t":0.024,"I":-0.001},{"sweep":9,"t":0.03,"I":0.002},{"sweep":9,"t":0.036,"I":-0.005},{"sweep":9,"t":0.042,"I":0.003},{"sweep":9,"t":0.048,"I":0},{"sweep":9,"t":0.054,"I":0.002},{"sweep":9,"t":0.06,"I":-0.002},{"sweep":9,"t":0.066,"I":0.004},{"sweep":9,"t":0.072,"I":-0.003},{"sweep":9,"t":0.078,"I":0.001},{"sweep":9,"t":0.084,"I":-0.001},{"sweep":9,"t":0.09,"I":0.003},{"sweep":9,"t":0.096,"I":-0.003},{"sweep":9,"t":0.1,"I":0.001},
{"sweep":9,"t":0.1005,"I":-0.012},{"sweep":9,"t":0.104,"I":-0.005},{"sweep":9,"t":0.113,"I":-0.01},{"sweep":9,"t":0.123,"I":-0.004},{"sweep":9,"t":0.133,"I":-0.011},{"sweep":9,"t":0.143,"I":-0.006},{"sweep":9,"t":0.153,"I":-0.013},{"sweep":9,"t":0.163,"I":-0.005},{"sweep":9,"t":0.173,"I":-0.009},{"sweep":9,"t":0.183,"I":-0.003},{"sweep":9,"t":0.193,"I":-0.01},{"sweep":9,"t":0.203,"I":-0.006},{"sweep":9,"t":0.213,"I":-0.012},{"sweep":9,"t":0.223,"I":-0.004},{"sweep":9,"t":0.233,"I":-0.009},{"sweep":9,"t":0.243,"I":-0.006},{"sweep":9,"t":0.253,"I":-0.014},{"sweep":9,"t":0.263,"I":-0.005},{"sweep":9,"t":0.273,"I":-0.01},{"sweep":9,"t":0.283,"I":-0.007},{"sweep":9,"t":0.293,"I":-0.012},{"sweep":9,"t":0.303,"I":-0.004},{"sweep":9,"t":0.313,"I":-0.009},{"sweep":9,"t":0.323,"I":-0.006},{"sweep":9,"t":0.333,"I":-0.013},{"sweep":9,"t":0.343,"I":-0.005},{"sweep":9,"t":0.353,"I":-0.01},{"sweep":9,"t":0.363,"I":-0.007},{"sweep":9,"t":0.373,"I":-0.012},{"sweep":9,"t":0.383,"I":-0.004},{"sweep":9,"t":0.393,"I":-0.009},{"sweep":9,"t":0.403,"I":-0.005},{"sweep":9,"t":0.413,"I":-0.011},{"sweep":9,"t":0.423,"I":-0.006},{"sweep":9,"t":0.433,"I":-0.013},{"sweep":9,"t":0.443,"I":-0.005},{"sweep":9,"t":0.453,"I":-0.009},{"sweep":9,"t":0.463,"I":-0.004},{"sweep":9,"t":0.473,"I":-0.011},{"sweep":9,"t":0.483,"I":-0.007},{"sweep":9,"t":0.493,"I":-0.012},{"sweep":9,"t":0.503,"I":-0.005},{"sweep":9,"t":0.513,"I":-0.01},{"sweep":9,"t":0.523,"I":-0.006},{"sweep":9,"t":0.533,"I":-0.013},{"sweep":9,"t":0.543,"I":-0.004},{"sweep":9,"t":0.553,"I":-0.009},{"sweep":9,"t":0.563,"I":-0.006},{"sweep":9,"t":0.573,"I":-0.012},{"sweep":9,"t":0.583,"I":-0.005},{"sweep":9,"t":0.593,"I":-0.01},{"sweep":9,"t":0.6,"I":-0.007},
{"sweep":9,"t":0.6005,"I":-0.065},{"sweep":9,"t":0.604,"I":-0.045},{"sweep":9,"t":0.608,"I":-0.03},{"sweep":9,"t":0.614,"I":-0.015},{"sweep":9,"t":0.62,"I":0},{"sweep":9,"t":0.63,"I":0.005},{"sweep":9,"t":0.64,"I":-0.001},{"sweep":9,"t":0.65,"I":0.004},{"sweep":9,"t":0.66,"I":-0.002},{"sweep":9,"t":0.67,"I":0.005},{"sweep":9,"t":0.68,"I":0},{"sweep":9,"t":0.69,"I":0.004},{"sweep":9,"t":0.7,"I":0.001},

{"sweep":10,"t":0,"I":0.001},{"sweep":10,"t":0.003,"I":-0.003},{"sweep":10,"t":0.009,"I":0.004},{"sweep":10,"t":0.015,"I":-0.002},{"sweep":10,"t":0.021,"I":0},{"sweep":10,"t":0.027,"I":-0.004},{"sweep":10,"t":0.033,"I":0.002},{"sweep":10,"t":0.039,"I":-0.001},{"sweep":10,"t":0.045,"I":0.003},{"sweep":10,"t":0.051,"I":-0.002},{"sweep":10,"t":0.057,"I":0.004},{"sweep":10,"t":0.063,"I":-0.003},{"sweep":10,"t":0.069,"I":0.001},{"sweep":10,"t":0.075,"I":-0.002},{"sweep":10,"t":0.081,"I":0.003},{"sweep":10,"t":0.087,"I":0},{"sweep":10,"t":0.093,"I":-0.003},{"sweep":10,"t":0.1,"I":-0.001},
{"sweep":10,"t":0.1005,"I":-0.02},{"sweep":10,"t":0.106,"I":-0.012},{"sweep":10,"t":0.116,"I":-0.018},{"sweep":10,"t":0.126,"I":-0.01},{"sweep":10,"t":0.136,"I":-0.016},{"sweep":10,"t":0.146,"I":-0.012},{"sweep":10,"t":0.156,"I":-0.02},{"sweep":10,"t":0.166,"I":-0.011},{"sweep":10,"t":0.176,"I":-0.017},{"sweep":10,"t":0.186,"I":-0.013},{"sweep":10,"t":0.196,"I":-0.019},{"sweep":10,"t":0.206,"I":-0.01},{"sweep":10,"t":0.216,"I":-0.016},{"sweep":10,"t":0.226,"I":-0.012},{"sweep":10,"t":0.236,"I":-0.018},{"sweep":10,"t":0.246,"I":-0.011},{"sweep":10,"t":0.256,"I":-0.015},{"sweep":10,"t":0.2624,"I":-0.05},{"sweep":10,"t":0.266,"I":-0.014},{"sweep":10,"t":0.276,"I":-0.018},{"sweep":10,"t":0.286,"I":-0.011},{"sweep":10,"t":0.296,"I":-0.016},{"sweep":10,"t":0.306,"I":-0.012},{"sweep":10,"t":0.316,"I":-0.019},{"sweep":10,"t":0.3262,"I":-0.038},{"sweep":10,"t":0.33,"I":-0.013},{"sweep":10,"t":0.34,"I":-0.017},{"sweep":10,"t":0.35,"I":-0.011},{"sweep":10,"t":0.36,"I":-0.016},{"sweep":10,"t":0.37,"I":-0.012},{"sweep":10,"t":0.38,"I":-0.019},{"sweep":10,"t":0.39,"I":-0.013},{"sweep":10,"t":0.4016,"I":-0.05},{"sweep":10,"t":0.405,"I":-0.014},{"sweep":10,"t":0.415,"I":-0.018},{"sweep":10,"t":0.425,"I":-0.012},{"sweep":10,"t":0.4356,"I":-0.055},{"sweep":10,"t":0.44,"I":-0.015},{"sweep":10,"t":0.45,"I":-0.011},{"sweep":10,"t":0.46,"I":-0.017},{"sweep":10,"t":0.4712,"I":-0.053},{"sweep":10,"t":0.475,"I":-0.014},{"sweep":10,"t":0.485,"I":-0.018},{"sweep":10,"t":0.495,"I":-0.012},{"sweep":10,"t":0.505,"I":-0.016},{"sweep":10,"t":0.5137,"I":-0.053},{"sweep":10,"t":0.518,"I":-0.013},{"sweep":10,"t":0.528,"I":-0.019},{"sweep":10,"t":0.538,"I":-0.012},{"sweep":10,"t":0.548,"I":-0.016},{"sweep":10,"t":0.558,"I":-0.011},{"sweep":10,"t":0.568,"I":-0.018},{"sweep":10,"t":0.578,"I":-0.013},{"sweep":10,"t":0.588,"I":-0.017},{"sweep":10,"t":0.6,"I":-0.014},
{"sweep":10,"t":0.6005,"I":-0.1},{"sweep":10,"t":0.603,"I":-0.075},{"sweep":10,"t":0.606,"I":-0.05},{"sweep":10,"t":0.61,"I":-0.032},{"sweep":10,"t":0.616,"I":-0.02},{"sweep":10,"t":0.625,"I":-0.01},{"sweep":10,"t":0.63,"I":-0.05},{"sweep":10,"t":0.635,"I":-0.008},{"sweep":10,"t":0.645,"I":-0.013},{"sweep":10,"t":0.655,"I":-0.006},{"sweep":10,"t":0.665,"I":-0.012},{"sweep":10,"t":0.675,"I":-0.007},{"sweep":10,"t":0.685,"I":-0.011},{"sweep":10,"t":0.695,"I":-0.005},{"sweep":10,"t":0.7,"I":-0.009},

{"sweep":11,"t":0,"I":-0.002},{"sweep":11,"t":0.006,"I":0.002},{"sweep":11,"t":0.012,"I":-0.001},{"sweep":11,"t":0.018,"I":0.004},{"sweep":11,"t":0.024,"I":-0.003},{"sweep":11,"t":0.03,"I":0},{"sweep":11,"t":0.036,"I":0.003},{"sweep":11,"t":0.042,"I":-0.002},{"sweep":11,"t":0.048,"I":0.001},{"sweep":11,"t":0.054,"I":-0.004},{"sweep":11,"t":0.06,"I":0.002},{"sweep":11,"t":0.066,"I":0},{"sweep":11,"t":0.072,"I":-0.002},{"sweep":11,"t":0.078,"I":0.003},{"sweep":11,"t":0.084,"I":-0.004},{"sweep":11,"t":0.09,"I":0.001},{"sweep":11,"t":0.096,"I":0.002},{"sweep":11,"t":0.1,"I":-0.003},
{"sweep":11,"t":0.1005,"I":-0.025},{"sweep":11,"t":0.104,"I":-0.018},{"sweep":11,"t":0.11,"I":-0.026},{"sweep":11,"t":0.118,"I":-0.022},{"sweep":11,"t":0.126,"I":-0.03},{"sweep":11,"t":0.1348,"I":-0.06},{"sweep":11,"t":0.138,"I":-0.028},{"sweep":11,"t":0.146,"I":-0.034},{"sweep":11,"t":0.154,"I":-0.029},{"sweep":11,"t":0.162,"I":-0.038},{"sweep":11,"t":0.1715,"I":-0.09},{"sweep":11,"t":0.175,"I":-0.036},{"sweep":11,"t":0.182,"I":-0.042},{"sweep":11,"t":0.188,"I":-0.033},{"sweep":11,"t":0.1935,"I":-0.085},{"sweep":11,"t":0.197,"I":-0.038},{"sweep":11,"t":0.203,"I":-0.035},{"sweep":11,"t":0.2082,"I":-0.068},{"sweep":11,"t":0.212,"I":-0.04},{"sweep":11,"t":0.22,"I":-0.034},{"sweep":11,"t":0.228,"I":-0.039},{"sweep":11,"t":0.236,"I":-0.031},{"sweep":11,"t":0.244,"I":-0.037},{"sweep":11,"t":0.252,"I":-0.03},{"sweep":11,"t":0.26,"I":-0.036},{"sweep":11,"t":0.2671,"I":-0.134},{"sweep":11,"t":0.27,"I":-0.034},{"sweep":11,"t":0.28,"I":-0.03},{"sweep":11,"t":0.29,"I":-0.035},{"sweep":11,"t":0.3,"I":-0.028},{"sweep":11,"t":0.31,"I":-0.032},{"sweep":11,"t":0.32,"I":-0.027},{"sweep":11,"t":0.33,"I":-0.031},{"sweep":11,"t":0.34,"I":-0.026},{"sweep":11,"t":0.35,"I":-0.03},{"sweep":11,"t":0.36,"I":-0.025},{"sweep":11,"t":0.37,"I":-0.029},{"sweep":11,"t":0.38,"I":-0.024},{"sweep":11,"t":0.39,"I":-0.03},{"sweep":11,"t":0.4,"I":-0.026},{"sweep":11,"t":0.4113,"I":-0.079},{"sweep":11,"t":0.415,"I":-0.028},{"sweep":11,"t":0.425,"I":-0.024},{"sweep":11,"t":0.435,"I":-0.03},{"sweep":11,"t":0.445,"I":-0.025},{"sweep":11,"t":0.455,"I":-0.029},{"sweep":11,"t":0.465,"I":-0.023},{"sweep":11,"t":0.475,"I":-0.028},{"sweep":11,"t":0.485,"I":-0.024},{"sweep":11,"t":0.495,"I":-0.03},{"sweep":11,"t":0.505,"I":-0.025},{"sweep":11,"t":0.515,"I":-0.032},{"sweep":11,"t":0.525,"I":-0.027},{"sweep":11,"t":0.5311,"I":-0.079},{"sweep":11,"t":0.535,"I":-0.03},{"sweep":11,"t":0.545,"I":-0.025},{"sweep":11,"t":0.555,"I":-0.031},{"sweep":11,"t":0.565,"I":-0.026},{"sweep":11,"t":0.575,"I":-0.033},{"sweep":11,"t":0.585,"I":-0.028},{"sweep":11,"t":0.5942,"I":-0.079},{"sweep":11,"t":0.5975,"I":-0.034},{"sweep":11,"t":0.6,"I":-0.03},
{"sweep":11,"t":0.6005,"I":-0.307},{"sweep":11,"t":0.6015,"I":-0.2},{"sweep":11,"t":0.603,"I":-0.13},{"sweep":11,"t":0.605,"I":-0.085},{"sweep":11,"t":0.608,"I":-0.055},{"sweep":11,"t":0.612,"I":-0.038},{"sweep":11,"t":0.618,"I":-0.025},{"sweep":11,"t":0.6213,"I":-0.041},{"sweep":11,"t":0.625,"I":-0.015},{"sweep":11,"t":0.637,"I":-0.073},{"sweep":11,"t":0.64,"I":-0.016},{"sweep":11,"t":0.65,"I":-0.01},{"sweep":11,"t":0.66,"I":-0.015},{"sweep":11,"t":0.67,"I":-0.009},{"sweep":11,"t":0.68,"I":-0.014},{"sweep":11,"t":0.69,"I":-0.008},{"sweep":11,"t":0.7,"I":-0.012},

{"sweep":12,"t":0,"I":0.002},{"sweep":12,"t":0.003,"I":0},{"sweep":12,"t":0.009,"I":-0.003},{"sweep":12,"t":0.015,"I":0.001},{"sweep":12,"t":0.021,"I":0.003},{"sweep":12,"t":0.027,"I":-0.002},{"sweep":12,"t":0.033,"I":-0.001},{"sweep":12,"t":0.039,"I":0.004},{"sweep":12,"t":0.045,"I":-0.003},{"sweep":12,"t":0.051,"I":0.002},{"sweep":12,"t":0.057,"I":-0.001},{"sweep":12,"t":0.063,"I":0.003},{"sweep":12,"t":0.069,"I":-0.004},{"sweep":12,"t":0.075,"I":0},{"sweep":12,"t":0.081,"I":0.002},{"sweep":12,"t":0.087,"I":-0.002},{"sweep":12,"t":0.093,"I":0.004},{"sweep":12,"t":0.1,"I":0.001},
{"sweep":12,"t":0.1005,"I":-0.03},{"sweep":12,"t":0.105,"I":-0.02},{"sweep":12,"t":0.112,"I":-0.026},{"sweep":12,"t":0.12,"I":-0.018},{"sweep":12,"t":0.128,"I":-0.024},{"sweep":12,"t":0.1406,"I":-0.057},{"sweep":12,"t":0.144,"I":-0.022},{"sweep":12,"t":0.152,"I":-0.027},{"sweep":12,"t":0.16,"I":-0.02},{"sweep":12,"t":0.168,"I":-0.025},{"sweep":12,"t":0.176,"I":-0.019},{"sweep":12,"t":0.185,"I":-0.064},{"sweep":12,"t":0.19,"I":-0.024},{"sweep":12,"t":0.2,"I":-0.018},{"sweep":12,"t":0.21,"I":-0.025},{"sweep":12,"t":0.22,"I":-0.02},{"sweep":12,"t":0.23,"I":-0.026},{"sweep":12,"t":0.2411,"I":-0.046},{"sweep":12,"t":0.245,"I":-0.021},{"sweep":12,"t":0.255,"I":-0.027},{"sweep":12,"t":0.265,"I":-0.019},{"sweep":12,"t":0.275,"I":-0.024},{"sweep":12,"t":0.285,"I":-0.02},{"sweep":12,"t":0.295,"I":-0.026},{"sweep":12,"t":0.305,"I":-0.018},{"sweep":12,"t":0.315,"I":-0.023},{"sweep":12,"t":0.325,"I":-0.027},{"sweep":12,"t":0.335,"I":-0.02},{"sweep":12,"t":0.345,"I":-0.025},{"sweep":12,"t":0.355,"I":-0.019},{"sweep":12,"t":0.365,"I":-0.024},{"sweep":12,"t":0.3822,"I":-0.058},{"sweep":12,"t":0.386,"I":-0.021},{"sweep":12,"t":0.396,"I":-0.027},{"sweep":12,"t":0.406,"I":-0.02},{"sweep":12,"t":0.416,"I":-0.025},{"sweep":12,"t":0.426,"I":-0.019},{"sweep":12,"t":0.436,"I":-0.024},{"sweep":12,"t":0.446,"I":-0.02},{"sweep":12,"t":0.451,"I":-0.12},{"sweep":12,"t":0.455,"I":-0.023},{"sweep":12,"t":0.465,"I":-0.027},{"sweep":12,"t":0.475,"I":-0.02},{"sweep":12,"t":0.4905,"I":-0.042},{"sweep":12,"t":0.495,"I":-0.024},{"sweep":12,"t":0.505,"I":-0.019},{"sweep":12,"t":0.515,"I":-0.026},{"sweep":12,"t":0.525,"I":-0.021},{"sweep":12,"t":0.535,"I":-0.027},{"sweep":12,"t":0.545,"I":-0.02},{"sweep":12,"t":0.5563,"I":-0.046},{"sweep":12,"t":0.56,"I":-0.023},{"sweep":12,"t":0.57,"I":-0.028},{"sweep":12,"t":0.58,"I":-0.021},{"sweep":12,"t":0.5872,"I":-0.064},{"sweep":12,"t":0.591,"I":-0.025},{"sweep":12,"t":0.6,"I":-0.022},
{"sweep":12,"t":0.6005,"I":-0.17},{"sweep":12,"t":0.602,"I":-0.14},{"sweep":12,"t":0.604,"I":-0.1},{"sweep":12,"t":0.607,"I":-0.065},{"sweep":12,"t":0.611,"I":-0.042},{"sweep":12,"t":0.617,"I":-0.028},{"sweep":12,"t":0.625,"I":-0.018},{"sweep":12,"t":0.635,"I":-0.012},{"sweep":12,"t":0.645,"I":-0.017},{"sweep":12,"t":0.655,"I":-0.01},{"sweep":12,"t":0.665,"I":-0.016},{"sweep":12,"t":0.675,"I":-0.011},{"sweep":12,"t":0.685,"I":-0.015},{"sweep":12,"t":0.695,"I":-0.009},{"sweep":12,"t":0.7,"I":-0.013},

{"sweep":13,"t":0,"I":0.005},{"sweep":13,"t":0.005,"I":-0.006},{"sweep":13,"t":0.01,"I":0.003},{"sweep":13,"t":0.015,"I":-0.007},{"sweep":13,"t":0.02,"I":0.006},{"sweep":13,"t":0.025,"I":-0.002},{"sweep":13,"t":0.03,"I":0.004},{"sweep":13,"t":0.035,"I":-0.008},{"sweep":13,"t":0.04,"I":0.002},{"sweep":13,"t":0.045,"I":-0.005},{"sweep":13,"t":0.05,"I":0.007},{"sweep":13,"t":0.055,"I":-0.003},{"sweep":13,"t":0.06,"I":0.001},{"sweep":13,"t":0.065,"I":-0.006},{"sweep":13,"t":0.07,"I":0.005},{"sweep":13,"t":0.075,"I":-0.004},{"sweep":13,"t":0.08,"I":0.006},{"sweep":13,"t":0.085,"I":-0.007},{"sweep":13,"t":0.09,"I":0.003},{"sweep":13,"t":0.095,"I":-0.002},{"sweep":13,"t":0.1,"I":0},
{"sweep":13,"t":0.105,"I":0.003},{"sweep":13,"t":0.11,"I":-0.009},{"sweep":13,"t":0.115,"I":0.001},{"sweep":13,"t":0.12,"I":-0.011},{"sweep":13,"t":0.125,"I":0.004},{"sweep":13,"t":0.13,"I":-0.007},{"sweep":13,"t":0.135,"I":0},{"sweep":13,"t":0.14,"I":-0.012},{"sweep":13,"t":0.145,"I":0.002},{"sweep":13,"t":0.15,"I":-0.008},{"sweep":13,"t":0.155,"I":0.005},{"sweep":13,"t":0.16,"I":-0.01},{"sweep":13,"t":0.165,"I":-0.001},{"sweep":13,"t":0.17,"I":-0.006},{"sweep":13,"t":0.175,"I":0.003},{"sweep":13,"t":0.18,"I":-0.013},{"sweep":13,"t":0.185,"I":0.001},{"sweep":13,"t":0.19,"I":-0.009},{"sweep":13,"t":0.195,"I":0.004},{"sweep":13,"t":0.2,"I":-0.007},
{"sweep":13,"t":0.205,"I":-0.002},{"sweep":13,"t":0.21,"I":-0.011},{"sweep":13,"t":0.215,"I":0.002},{"sweep":13,"t":0.22,"I":-0.008},{"sweep":13,"t":0.225,"I":0.005},{"sweep":13,"t":0.23,"I":-0.012},{"sweep":13,"t":0.235,"I":0},{"sweep":13,"t":0.24,"I":-0.009},{"sweep":13,"t":0.245,"I":0.003},{"sweep":13,"t":0.25,"I":-0.006},{"sweep":13,"t":0.255,"I":-0.001},{"sweep":13,"t":0.26,"I":-0.01},{"sweep":13,"t":0.265,"I":0.004},{"sweep":13,"t":0.27,"I":-0.008},{"sweep":13,"t":0.275,"I":0.001},{"sweep":13,"t":0.28,"I":-0.013},{"sweep":13,"t":0.285,"I":0.002},{"sweep":13,"t":0.29,"I":-0.007},{"sweep":13,"t":0.295,"I":0.005},{"sweep":13,"t":0.3,"I":-0.009},
{"sweep":13,"t":0.305,"I":-0.001},{"sweep":13,"t":0.31,"I":-0.011},{"sweep":13,"t":0.315,"I":0.003},{"sweep":13,"t":0.32,"I":-0.006},{"sweep":13,"t":0.325,"I":0},{"sweep":13,"t":0.33,"I":-0.012},{"sweep":13,"t":0.335,"I":0.004},{"sweep":13,"t":0.34,"I":-0.008},{"sweep":13,"t":0.345,"I":0.002},{"sweep":13,"t":0.35,"I":-0.01},{"sweep":13,"t":0.355,"I":-0.002},{"sweep":13,"t":0.36,"I":-0.007},{"sweep":13,"t":0.365,"I":0.005},{"sweep":13,"t":0.37,"I":-0.011},{"sweep":13,"t":0.375,"I":0.001},{"sweep":13,"t":0.38,"I":-0.009},{"sweep":13,"t":0.385,"I":0.003},{"sweep":13,"t":0.39,"I":-0.013},{"sweep":13,"t":0.395,"I":0},{"sweep":13,"t":0.4,"I":-0.006},
{"sweep":13,"t":0.405,"I":0.004},{"sweep":13,"t":0.41,"I":-0.01},{"sweep":13,"t":0.415,"I":0.002},{"sweep":13,"t":0.42,"I":-0.008},{"sweep":13,"t":0.425,"I":-0.001},{"sweep":13,"t":0.43,"I":-0.012},{"sweep":13,"t":0.435,"I":0.003},{"sweep":13,"t":0.44,"I":-0.007},{"sweep":13,"t":0.445,"I":0.005},{"sweep":13,"t":0.45,"I":-0.009},{"sweep":13,"t":0.455,"I":0},{"sweep":13,"t":0.46,"I":-0.011},{"sweep":13,"t":0.465,"I":0.002},{"sweep":13,"t":0.47,"I":-0.006},{"sweep":13,"t":0.475,"I":0.004},{"sweep":13,"t":0.48,"I":-0.01},{"sweep":13,"t":0.485,"I":0.001},{"sweep":13,"t":0.49,"I":-0.013},{"sweep":13,"t":0.495,"I":0.003},{"sweep":13,"t":0.5,"I":-0.008},
{"sweep":13,"t":0.505,"I":-0.001},{"sweep":13,"t":0.51,"I":-0.009},{"sweep":13,"t":0.515,"I":0.005},{"sweep":13,"t":0.52,"I":-0.007},{"sweep":13,"t":0.525,"I":0.002},{"sweep":13,"t":0.53,"I":-0.012},{"sweep":13,"t":0.535,"I":0},{"sweep":13,"t":0.54,"I":-0.01},{"sweep":13,"t":0.545,"I":0.004},{"sweep":13,"t":0.55,"I":-0.006},{"sweep":13,"t":0.555,"I":0.001},{"sweep":13,"t":0.56,"I":-0.011},{"sweep":13,"t":0.565,"I":0.003},{"sweep":13,"t":0.57,"I":-0.008},{"sweep":13,"t":0.575,"I":-0.002},{"sweep":13,"t":0.58,"I":-0.009},{"sweep":13,"t":0.585,"I":0.005},{"sweep":13,"t":0.59,"I":-0.007},{"sweep":13,"t":0.595,"I":0.002},{"sweep":13,"t":0.6,"I":-0.004},
{"sweep":13,"t":0.6005,"I":-0.12},{"sweep":13,"t":0.602,"I":-0.08},{"sweep":13,"t":0.605,"I":-0.045},{"sweep":13,"t":0.61,"I":-0.02},{"sweep":13,"t":0.615,"I":0.004},{"sweep":13,"t":0.62,"I":-0.008},{"sweep":13,"t":0.625,"I":0.002},{"sweep":13,"t":0.63,"I":-0.01},{"sweep":13,"t":0.635,"I":0.005},{"sweep":13,"t":0.64,"I":-0.006},{"sweep":13,"t":0.645,"I":0.001},{"sweep":13,"t":0.65,"I":-0.009},{"sweep":13,"t":0.655,"I":0.003},{"sweep":13,"t":0.66,"I":-0.007},{"sweep":13,"t":0.665,"I":0.006},{"sweep":13,"t":0.67,"I":-0.011},{"sweep":13,"t":0.675,"I":0},{"sweep":13,"t":0.68,"I":-0.005},{"sweep":13,"t":0.685,"I":0.004},{"sweep":13,"t":0.69,"I":-0.008},{"sweep":13,"t":0.695,"I":0.002},{"sweep":13,"t":0.7,"I":-0.006}
]},
"layer": [
{
"mark": {"type": "line", "color": "#ff0000", "strokeWidth": 1, "clip": true},
"encoding": {
"x": {"field": "t", "type": "quantitative", "scale": {"domain": [0, 0.7], "nice": false, "zero": false},
"axis": {"values": [0.1, 0.6], "format": ".1f", "title": "t [s]", "grid": false, "tickSize": -6, "labelPadding": 14, "labelFontSize": 23.5, "labelColor": "#262626", "titleFontSize": 25, "titleFontWeight": "normal", "titleColor": "#262626", "titlePadding": 11, "domainColor": "#555555", "tickColor": "#555555", "labelFlush": false}},
"y": {"field": "I", "type": "quantitative", "scale": {"domain": [-0.393, 0.644], "nice": false, "zero": false},
"axis": {"values": [-0.2, 0, 0.2, 0.4, 0.6], "labelExpr": "'' + datum.value", "title": "I [nA]", "grid": false, "tickSize": -6, "labelAlign": "center", "labelBaseline": "middle", "labelPadding": 39.5, "labelFontSize": 23.5, "labelColor": "#262626", "titleFontSize": 25, "titleFontWeight": "normal", "titleColor": "#262626", "titlePadding": 6, "domainColor": "#555555", "tickColor": "#555555"}},
"detail": {"field": "sweep", "type": "nominal"}
}
},
{
"mark": {"type": "point", "opacity": 0},
"encoding": {
"x": {"field": "t", "type": "quantitative", "axis": {"orient": "top", "domain": false, "ticks": false, "labels": false, "grid": false, "title": "35 °C\u00a0 Activation", "titleAnchor": "end", "titleFontSize": 19, "titleFontWeight": "normal", "titleColor": "#000000", "titleBaseline": "alphabetic", "titlePadding": -4}},
"y": {"field": "I", "type": "quantitative", "axis": {"orient": "right", "domain": false, "ticks": false, "labels": false, "grid": false, "title": "BBP Channelpedia ID 29352 rep 1", "titleAngle": 270, "titleBaseline": "top", "titleFontSize": 13.8, "titleFontWeight": "normal", "titleColor": "#000000", "titlePadding": 3}}
}
}
],
"resolve": {"axis": {"x": "independent", "y": "independent"}}
}
